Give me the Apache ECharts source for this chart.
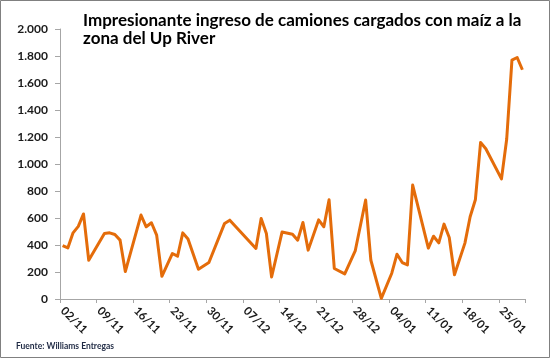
<!DOCTYPE html>
<html>
<head>
<meta charset="utf-8">
<script src="https://cdn.jsdelivr.net/npm/echarts@6/dist/echarts.min.js"></script>
<style>
html,body{margin:0;padding:0;background:#fff;}
#chart{width:550px;height:358px;}
</style>
</head>
<body>
<div id="chart"></div>
<script>
// Data points (dd/mm) and trucks entering Up River
const dataDates = ['02/11','03/11','04/11','05/11','06/11','07/11','10/11','11/11','12/11','13/11','14/11',
  '17/11','18/11','19/11','20/11','21/11','23/11','24/11','25/11','26/11','28/11','30/11',
  '03/12','04/12','09/12','10/12','11/12','12/12','14/12','16/12','17/12','18/12','19/12',
  '21/12','22/12','23/12','24/12','26/12','28/12','30/12','31/12',
  '02/01','04/01','05/01','06/01','07/01','08/01','11/01','12/01','13/01','14/01','15/01','16/01',
  '18/01','19/01','20/01','21/01','22/01','25/01','26/01','27/01','28/01','29/01'];
const camiones = [395,378,490,538,630,287,485,490,478,436,203,
  622,535,565,473,168,337,317,490,444,220,270,
  560,584,374,597,485,163,496,480,436,567,362,
  586,535,735,226,186,356,733,287,
  5,191,332,270,252,844,377,465,416,555,455,180,
  414,609,735,1160,1113,890,1185,1770,1789,1698];
const tickLabels = ['02/11','09/11','16/11','23/11','30/11','07/12','14/12','21/12','28/12','04/01','11/01','18/01','25/01'];
const titleText = 'Impresionante ingreso de camiones cargados con maíz a la\nzona del Up River';
const sourceText = 'Fuente: Williams Entregas';

// Build daily category axis 02/11 .. 29/01
const monthSpec = [['11', 2, 30], ['12', 1, 31], ['01', 1, 29]];
const allDays = [];
monthSpec.forEach(([m, a, b]) => { for (let d = a; d <= b; d++) allDays.push(String(d).padStart(2, '0') + '/' + m); });
const lookup = {};
dataDates.forEach((d, i) => { lookup[d] = camiones[i]; });
const seriesData = allDays.map(d => (d in lookup ? lookup[d] : null));

const fmt = v => String(v).replace(/\B(?=(\d{3})+(?!\d))/g, '.');
const showTick = (idx, val) => tickLabels.includes(allDays[idx]);

const chart = echarts.init(document.getElementById('chart'), null, {renderer: 'canvas'});
chart.setOption({
  animation: false,
  backgroundColor: '#ffffff',
  title: {
    text: titleText,
    left: 83, top: 12, padding: 0,
    textStyle: {fontFamily: 'Lato', fontWeight: 'bold', fontSize: 17, lineHeight: 18, color: '#000'}
  },
  graphic: [
    {type: 'rect', shape: {x: 0.5, y: 0.5, width: 549, height: 357}, style: {fill: 'none', stroke: '#808080', lineWidth: 1}, silent: true},
    {type: 'text', left: 16, top: 342, style: {text: sourceText, font: 'bold 8.5px Lato', fill: '#1f2a44'}}
  ],
  grid: {left: 60, right: 25, top: 29, bottom: 59},
  xAxis: {
    type: 'category',
    data: allDays,
    boundaryGap: true,
    axisLine: {lineStyle: {color: '#a6a6a6', width: 1}},
    axisTick: {show: true, interval: showTick, length: 4, lineStyle: {color: '#a6a6a6'}},
    axisLabel: {interval: showTick, rotate: -45, margin: 10, fontFamily: 'Lato', fontWeight: 'bold', fontSize: 11.5, color: '#1a1a1a'},
    splitLine: {show: false}
  },
  yAxis: {
    type: 'value',
    min: 0, max: 2000, interval: 200,
    axisLine: {show: true, lineStyle: {color: '#a6a6a6', width: 1}},
    axisTick: {show: true, length: 5, lineStyle: {color: '#a6a6a6'}},
    axisLabel: {formatter: fmt, margin: 12, fontFamily: 'Lato', fontWeight: 'bold', fontSize: 12, color: '#1a1a1a'},
    splitLine: {show: false}
  },
  series: [{
    type: 'line',
    data: seriesData,
    connectNulls: true,
    showSymbol: false,
    symbol: 'none',
    lineStyle: {color: '#E46C0A', width: 3, join: 'round'},
    itemStyle: {color: '#E46C0A'}
  }]
});
</script>
</body>
</html>
